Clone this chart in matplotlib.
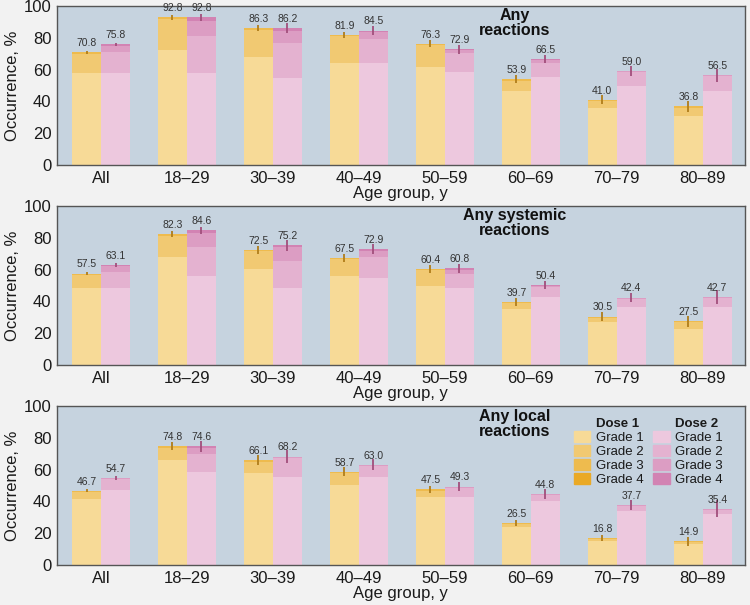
import matplotlib.pyplot as plt
import numpy as np
from matplotlib.patches import Patch

plt.rcParams['font.family'] = ['Liberation Sans', 'DejaVu Sans']

groups = ["All", "18–29", "30–39", "40–49", "50–59", "60–69", "70–79", "80–89"]
panel_titles = ["Any\nreactions", "Any systemic\nreactions", "Any local\nreactions"]

# totals shown above bars
any_d1 = [70.8, 92.8, 86.3, 81.9, 76.3, 53.9, 41.0, 36.8]
any_d2 = [75.8, 92.8, 86.2, 84.5, 72.9, 66.5, 59.0, 56.5]
sys_d1 = [57.5, 82.3, 72.5, 67.5, 60.4, 39.7, 30.5, 27.5]
sys_d2 = [63.1, 84.6, 75.2, 72.9, 60.8, 50.4, 42.4, 42.7]
loc_d1 = [46.7, 74.8, 66.1, 58.7, 47.5, 26.5, 16.8, 14.9]
loc_d2 = [54.7, 74.6, 68.2, 63.0, 49.3, 44.8, 37.7, 35.4]

# grade 1..3 shares (grade 4 = rest)
any_d1_g1 = [58.1, 72.3, 68.1, 64.3, 61.8, 46.5, 35.6, 30.8]
any_d1_g2 = [11.7, 19.3, 17.0, 16.6, 13.5, 6.4, 4.6, 5.2]
any_d1_g3 = [1.0, 1.2, 1.2, 1.0, 1.0, 1.0, 0.8, 0.8]
any_d2_g1 = [58.1, 58.1, 54.5, 64.0, 58.3, 55.5, 49.9, 46.7]
any_d2_g2 = [13.2, 23.0, 22.0, 15.0, 12.0, 8.8, 8.3, 9.0]
any_d2_g3 = [3.5, 9.5, 7.8, 4.5, 1.8, 1.5, 0.8, 0.8]

sys_d1_g1 = [48.6, 68.1, 60.6, 56.0, 49.5, 35.0, 27.2, 22.8]
sys_d1_g2 = [8.0, 13.2, 10.9, 10.5, 10.0, 3.9, 2.6, 4.0]
sys_d1_g3 = [0.9, 1.0, 1.0, 1.0, 0.9, 0.8, 0.7, 0.7]
sys_d2_g1 = [48.6, 56.0, 48.2, 55.0, 48.6, 42.6, 36.3, 36.3]
sys_d2_g2 = [10.1, 18.4, 17.4, 13.0, 8.6, 6.2, 5.4, 5.6]
sys_d2_g3 = [3.6, 8.4, 8.4, 4.0, 2.8, 1.0, 0.7, 0.8]

loc_d1_g1 = [41.3, 66.0, 58.1, 50.3, 42.6, 23.7, 15.3, 13.5]
loc_d1_g2 = [4.6, 7.8, 7.0, 7.4, 4.1, 2.1, 0.8, 0.7]
loc_d1_g3 = [0.8, 1.0, 1.0, 1.0, 0.8, 0.7, 0.7, 0.7]
loc_d2_g1 = [47.2, 58.7, 55.6, 55.6, 42.6, 40.5, 34.2, 32.1]
loc_d2_g2 = [6.7, 10.9, 11.6, 6.6, 5.9, 3.6, 2.8, 2.6]
loc_d2_g3 = [0.8, 4.0, 1.0, 0.8, 0.8, 0.7, 0.7, 0.7]

# half-width of confidence intervals
any_d1_err = [1.0, 1.5, 2.0, 2.0, 2.0, 2.5, 2.9, 3.7]
any_d2_err = [1.2, 2.0, 3.0, 3.0, 2.8, 2.5, 3.0, 4.0]
sys_d1_err = [1.0, 2.0, 2.5, 2.5, 2.5, 2.5, 2.7, 3.5]
sys_d2_err = [1.2, 2.0, 3.5, 3.0, 2.8, 2.5, 3.0, 4.5]
loc_d1_err = [1.0, 2.5, 3.0, 3.0, 2.5, 2.0, 2.0, 3.0]
loc_d2_err = [1.2, 3.5, 4.0, 3.5, 3.0, 3.0, 3.0, 5.5]

panels = [
    (any_d1, any_d2, [any_d1_g1, any_d1_g2, any_d1_g3], [any_d2_g1, any_d2_g2, any_d2_g3], any_d1_err, any_d2_err),
    (sys_d1, sys_d2, [sys_d1_g1, sys_d1_g2, sys_d1_g3], [sys_d2_g1, sys_d2_g2, sys_d2_g3], sys_d1_err, sys_d2_err),
    (loc_d1, loc_d2, [loc_d1_g1, loc_d1_g2, loc_d1_g3], [loc_d2_g1, loc_d2_g2, loc_d2_g3], loc_d1_err, loc_d2_err),
]

d1_colors = ["#f7da97", "#f1c972", "#eebb4e", "#eaa925"]
d2_colors = ["#edc8de", "#e4b2d0", "#dc9dc3", "#d283b3"]
d1_err_color = "#b07d1a"
d2_err_color = "#a24f7c"

fig = plt.figure(figsize=(7.5, 6.05), dpi=100)
fig.patch.set_facecolor("#f2f2f2")

x = np.arange(len(groups))
w = 0.337
bottoms = [0.7273, 0.3967, 0.0661]

for p, (t1, t2, gr1, gr2, e1, e2) in enumerate(panels):
    ax = fig.add_axes([0.076, bottoms[p], 0.917, 0.2628])
    ax.set_facecolor("#c6d3df")

    for xs, tot, grades, cols in [(x - w / 2, t1, gr1, d1_colors), (x + w / 2, t2, gr2, d2_colors)]:
        tot = np.array(tot)
        base = np.zeros(len(groups))
        for k in range(3):
            g = np.array(grades[k])
            ax.bar(xs, g, w, bottom=base, color=cols[k], linewidth=0)
            base = base + g
        ax.bar(xs, np.clip(tot - base, 0, None), w, bottom=base, color=cols[3], linewidth=0)

    ax.errorbar(x - w / 2, t1, yerr=e1, fmt="none", ecolor=d1_err_color, elinewidth=1.3, capsize=0)
    ax.errorbar(x + w / 2, t2, yerr=e2, fmt="none", ecolor=d2_err_color, elinewidth=1.3, capsize=0)

    for xs, tot in [(x - w / 2, t1), (x + w / 2, t2)]:
        for xi, v in zip(xs, tot):
            ax.annotate(f"{v:.1f}", (xi, v), xytext=(0, 3), textcoords="offset points",
                        ha="center", va="bottom", fontsize=7.5, color="#333333")

    ax.set_xlim(-0.512, 7.488)
    ax.set_ylim(0, 100)
    ax.set_xticks(x)
    ax.set_xticklabels(groups)
    ax.set_yticks([0, 20, 40, 60, 80, 100])
    ax.tick_params(length=0, labelsize=12, colors="#1a1a1a", pad=4)
    ax.set_xlabel("Age group, y", fontsize=12, labelpad=0, color="#1a1a1a")
    ax.set_ylabel("Occurrence, %", fontsize=12, color="#1a1a1a")
    ax.yaxis.set_label_coords(-0.054, 0.5)
    for s in ax.spines.values():
        s.set_color("#555555")
        s.set_linewidth(1.0)

    ax.text(0.666, 0.89, panel_titles[p], transform=ax.transAxes, ha="center", va="center",
            fontsize=11.5, fontweight="bold", linespacing=1.0, color="#111111")

    if p == 2:
        blank = Patch(facecolor="none", edgecolor="none")
        handles = [blank] + [Patch(color=c) for c in d1_colors] + [blank] + [Patch(color=c) for c in d2_colors]
        labels = ["Dose 1"] + [f"Grade {i}" for i in range(1, 5)] + ["Dose 2"] + [f"Grade {i}" for i in range(1, 5)]
        leg = ax.legend(handles, labels, ncol=2, loc="upper right", bbox_to_anchor=(0.985, 1.0),
                        frameon=False, fontsize=9.5, labelspacing=0.05, handlelength=1.25,
                        handleheight=0.95, handletextpad=0.45, columnspacing=0.7, borderaxespad=0.45)
        for t in leg.get_texts():
            t.set_color("#1a1a1a")
            if t.get_text().startswith("Dose"):
                t.set_fontweight("bold")

fig.savefig("out.png", dpi=100, facecolor=fig.get_facecolor())
